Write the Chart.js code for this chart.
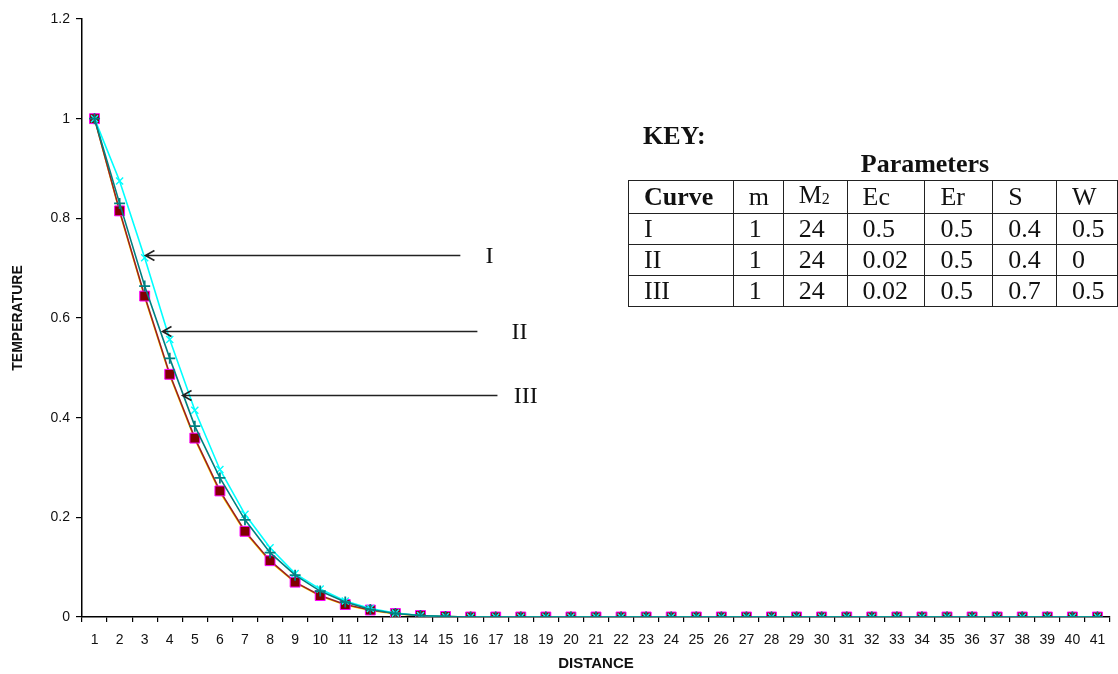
<!DOCTYPE html>
<html>
<head>
<meta charset="utf-8">
<title>Temperature vs distance</title>
<script src="https://cdn.jsdelivr.net/npm/chart.js"></script>
<style>
  html, body { margin: 0; padding: 0; background: #fff; }
  #wrap { position: relative; width: 1118px; height: 674px; overflow: hidden; }
  #plot { position: absolute; left: 0; top: 0; }
  .key { position: absolute; font-family: "Liberation Serif", "Times New Roman", serif; color: #111; }
  #keyTitle { left: 643px; top: 121px; font-size: 26px; font-weight: bold; }
  #paramTitle { left: 733px; width: 384px; top: 149px; text-align: center; font-size: 26px; font-weight: bold; }
  #keyTable { left: 628px; top: 180px; border-collapse: collapse; table-layout: fixed; font-size: 26px; }
  #keyTable td { border: 1.5px solid #222; height: 30px; padding: 0 0 0 15px; line-height: 28px; white-space: nowrap; }
  #keyTable td.bold { font-weight: bold; }
  #keyTable sub { font-size: 16px; vertical-align: -1px; }
</style>
</head>
<body>
<div id="wrap">
  <canvas id="plot" width="1118" height="674"></canvas>
  <div class="key" id="keyTitle">KEY:</div>
  <div class="key" id="paramTitle">Parameters</div>
  <table class="key" id="keyTable"></table>
</div>
<script>
// x positions 1..41
const distance = ['1','2','3','4','5','6','7','8','9','10','11','12','13','14','15','16','17','18','19','20',
  '21','22','23','24','25','26','27','28','29','30','31','32','33','34','35','36','37','38','39','40','41']

// temperature profiles (zero after x = 15)
const cyanCross = [1, 0.875, 0.721, 0.557, 0.415, 0.296, 0.206, 0.139, 0.087, 0.056, 0.032, 0.017, 0.008, 0.003, 0.001,
  0,0,0,0,0,0,0,0,0,0,0,0,0,0,0,0,0,0,0,0,0,0,0,0,0,0]
const tealPlus = [1, 0.830, 0.664, 0.519, 0.383, 0.279, 0.195, 0.129, 0.084, 0.052, 0.030, 0.015, 0.007, 0.003, 0.001,
  0,0,0,0,0,0,0,0,0,0,0,0,0,0,0,0,0,0,0,0,0,0,0,0,0,0]
const redSquares = [1, 0.815, 0.644, 0.487, 0.359, 0.253, 0.172, 0.113, 0.070, 0.043, 0.025, 0.014, 0.007, 0.003, 0.001,
  0,0,0,0,0,0,0,0,0,0,0,0,0,0,0,0,0,0,0,0,0,0,0,0,0,0]
const yellowTriangles = [1, 0.812, 0.641, 0.484, 0.356, 0.250, 0.170, 0.111, 0.069, 0.042, 0.024, 0.013, 0.006, 0.003, 0.001,
  0,0,0,0,0,0,0,0,0,0,0,0,0,0,0,0,0,0,0,0,0,0,0,0,0,0]

const yTicks = [0, 0.2, 0.4, 0.6, 0.8, 1, 1.2]

// curve callouts: arrow tip / tail in (category index, temperature)
const calloutNames = ['I', 'II', 'III']
const calloutTipX = [2.03, 2.71, 3.51]
const calloutTailX = [14.59, 15.27, 16.07]
const calloutLabelX = [15.75, 16.95, 17.2]
const calloutY = [0.727, 0.573, 0.446]

// parameter key
const keyHeader = ['Curve', 'm', 'M<sub>2</sub>', 'Ec', 'Er', 'S', 'W']
const keyRows = [
  ['I', '1', '24', '0.5', '0.5', '0.4', '0.5'],
  ['II', '1', '24', '0.02', '0.5', '0.4', '0'],
  ['III', '1', '24', '0.02', '0.5', '0.7', '0.5']
]
const keyColWidths = [105, 50, 64, 78, 68, 64, 61]

function buildKey() {
  const table = document.getElementById('keyTable')
  const cg = document.createElement('colgroup')
  keyColWidths.forEach(w => {
    const c = document.createElement('col')
    c.style.width = w + 'px'
    cg.appendChild(c)
  })
  table.appendChild(cg)
  ;[keyHeader, ...keyRows].forEach((row, r) => {
    const tr = document.createElement('tr')
    row.forEach((cell, c) => {
      const td = document.createElement('td')
      td.innerHTML = cell
      if (r === 0 && c === 0) td.className = 'bold'
      tr.appendChild(td)
    })
    table.appendChild(tr)
  })
}

const calloutPlugin = {
  id: 'callouts',
  afterDatasetsDraw(chart) {
    const { ctx, scales: { x, y } } = chart
    ctx.save()
    ctx.strokeStyle = '#222'
    ctx.lineWidth = 1.6
    calloutNames.forEach((name, i) => {
      const tx = x.getPixelForValue(calloutTipX[i])
      const ex = x.getPixelForValue(calloutTailX[i])
      const py = Math.round(y.getPixelForValue(calloutY[i])) + 0.5
      ctx.beginPath()
      ctx.moveTo(ex, py)
      ctx.lineTo(tx, py)
      ctx.moveTo(tx + 9, py - 5)
      ctx.lineTo(tx, py)
      ctx.lineTo(tx + 9, py + 5)
      ctx.stroke()
      ctx.fillStyle = '#111'
      ctx.font = '24px "Liberation Serif", "Times New Roman", serif'
      ctx.textAlign = 'center'
      ctx.textBaseline = 'middle'
      ctx.fillText(name, x.getPixelForValue(calloutLabelX[i]), py + 1)
    })
    ctx.restore()
  }
}

function makeChart() {
  const ctx = document.getElementById('plot').getContext('2d')
  const tickFont = { family: '"Liberation Sans", Arial, sans-serif', size: 14 }
  new Chart(ctx, {
    type: 'line',
    data: {
      labels: distance,
      datasets: [
        {
          label: 'tealPlus', data: tealPlus, order: 1,
          borderColor: '#008080', borderWidth: 1.6,
          pointStyle: 'cross', pointRadius: 5.5, pointBorderWidth: 1.8,
          pointBorderColor: '#008080', pointBackgroundColor: '#008080'
        },
        {
          label: 'cyanCross', data: cyanCross, order: 2,
          borderColor: '#00ffff', borderWidth: 1.6,
          pointStyle: 'crossRot', pointRadius: 5, pointBorderWidth: 1.4,
          pointBorderColor: '#00ffff', pointBackgroundColor: '#00ffff'
        },
        {
          label: 'redSquares', data: redSquares, order: 3,
          borderColor: '#9b2020', borderWidth: 1.6,
          pointStyle: 'rect', pointRadius: 7, pointBorderWidth: 1,
          pointBorderColor: '#ff00ff', pointBackgroundColor: '#800000'
        },
        {
          label: 'yellowTriangles', data: yellowTriangles, order: 4,
          borderColor: '#ffd700', borderWidth: 1.4,
          pointStyle: 'triangle', pointRadius: 5.5, pointBorderWidth: 1,
          pointBorderColor: '#ffcc00', pointBackgroundColor: '#ffff00'
        }
      ]
    },
    options: {
      responsive: false,
      animation: false,
      devicePixelRatio: 1,
      layout: { padding: { top: 19, right: 8, left: 0, bottom: 0 } },
      plugins: { legend: { display: false }, tooltip: { enabled: false } },
      elements: { line: { tension: 0 } },
      scales: {
        x: {
          offset: true,
          afterFit(scale) { scale.height = 57 },
          border: { display: true, color: '#000', width: 1.5 },
          grid: { offset: true, drawOnChartArea: false, drawTicks: true, tickLength: 5, color: '#000', lineWidth: 1.2 },
          ticks: { color: '#111', font: tickFont, padding: 10, autoSkip: false, maxRotation: 0 },
          title: {
            display: true, text: 'DISTANCE', color: '#111',
            font: { family: '"Liberation Sans", Arial, sans-serif', size: 15, weight: 'bold' },
            padding: { top: 0, bottom: 1 }
          }
        },
        y: {
          min: 0, max: 1.2,
          afterFit(scale) { scale.width = 82 },
          afterBuildTicks(scale) { scale.ticks = yTicks.map(v => ({ value: v })) },
          border: { display: true, color: '#000', width: 1.5 },
          grid: { drawOnChartArea: false, drawTicks: true, tickLength: 6, color: '#000', lineWidth: 1.2 },
          ticks: { color: '#111', font: tickFont, padding: 6, callback: v => String(Math.round(v * 10) / 10) },
          title: {
            display: true, text: 'TEMPERATURE', color: '#111',
            font: { family: '"Liberation Sans", Arial, sans-serif', size: 14, weight: 'bold' },
            padding: { top: 10, bottom: 0 }
          }
        }
      }
    },
    plugins: [calloutPlugin]
  })
}

buildKey()
window.onload = makeChart
</script>
</body>
</html>
